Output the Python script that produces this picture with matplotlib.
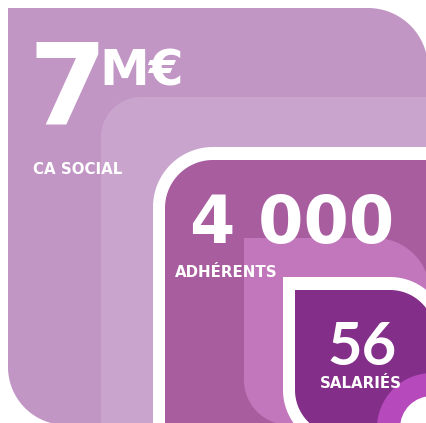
import numpy as np
import matplotlib
matplotlib.use("Agg")
import matplotlib.pyplot as plt
from matplotlib.patches import Polygon, Circle

# chiffres clés
values = ["7", "4 000", "56"]
units = ["M€", "", ""]
labels = ["CA SOCIAL", "ADHÉRENTS", "SALARIÉS"]

W, H = 427, 423


def rounded_box(x0, y0, x1, y1, tl=0, tr=0, br=0, bl=0, n=40):
    # y vers le bas (coordonnées pixel)
    pts = []
    def arc(cx, cy, r, a0, a1):
        if r == 0:
            return [(cx, cy)]
        t = np.linspace(np.radians(a0), np.radians(a1), n)
        return list(zip(cx + r * np.cos(t), cy + r * np.sin(t)))
    pts += arc(x0 + tl, y0 + tl, tl, 180, 270)
    pts += arc(x1 - tr, y0 + tr, tr, 270, 360)
    pts += arc(x1 - br, y1 - br, br, 0, 90)
    pts += arc(x0 + bl, y1 - bl, bl, 90, 180)
    return pts


fig = plt.figure(figsize=(W / 100, H / 100), dpi=100)
ax = fig.add_axes([0, 0, 1, 1])
ax.set_xlim(0, W)
ax.set_ylim(H, 0)
ax.axis("off")

def box(color, *a, **k):
    ax.add_patch(Polygon(rounded_box(*a, **k), closed=True, fc=color, ec="none"))

box("#C196C5", 8, 8, 428, 425, tr=60, bl=58)
box("#C9A4CD", 101, 97, 432, 432, tl=40)
box("white", 153, 147, 440, 440, tl=60)
box("#A85D9F", 165, 160, 440, 440, tl=48)
box("#C277BC", 244, 238, 430, 425, tr=55, bl=45)
box("white", 283, 277, 447, 447, tr=57, bl=57)
box("#832F8A", 295, 290, 435, 435, tr=45, bl=45)
ax.add_patch(Circle((432, 428), 55, fc="#B649BB", ec="none"))
ax.add_patch(Circle((432, 428), 32, fc="white", ec="none"))

num_font = ["DejaVu Sans"]
lab_font = ["Lato", "DejaVu Sans"]

ax.text(29, 123, values[0], color="white", fontsize=81, fontweight="bold",
        family=num_font, va="baseline", ha="left")
ax.text(99, 85, units[0], color="white", fontsize=36, fontweight="bold",
        family=num_font, va="baseline", ha="left")
ax.text(33, 174, labels[0], color="white", fontsize=10.8, fontweight="bold",
        family=num_font, va="baseline", ha="left")

ax.text(190, 243, values[1], color="white", fontsize=47, fontweight="bold",
        family=num_font, va="baseline", ha="left")
ax.text(175, 277, labels[1], color="white", fontsize=10.8, fontweight="bold",
        family=num_font, va="baseline", ha="left")

ax.text(362, 365, values[2], color="white", fontsize=43, fontweight="bold",
        family=lab_font, va="baseline", ha="center")
ax.text(361, 388, labels[2], color="white", fontsize=10.8, fontweight="bold",
        family=num_font, va="baseline", ha="center")

fig.savefig("out.png", dpi=100)
